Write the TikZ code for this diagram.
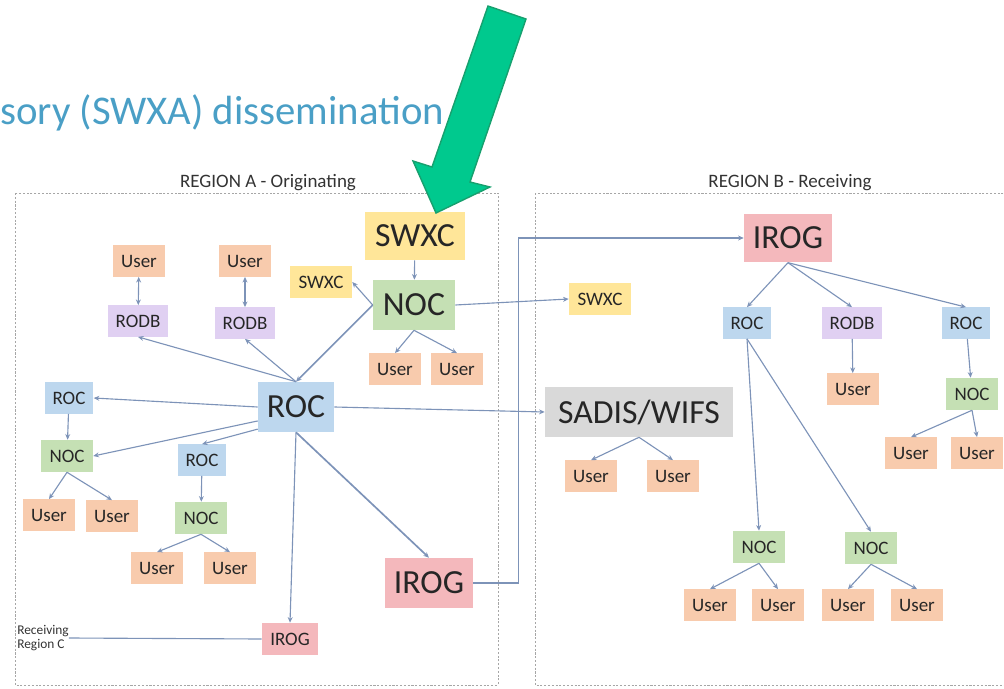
\documentclass[tikz,border=0pt]{standalone}
\usepackage{fontspec}
\setmainfont{Carlito}
\usepackage{xcolor}
\usetikzlibrary{arrows.meta, positioning}
\definecolor{userfill}{HTML}{F8CBAD}
\definecolor{rodbfill}{HTML}{E0D0F2}
\definecolor{rocfill}{HTML}{BDD7EE}
\definecolor{nocfill}{HTML}{C5E0B4}
\definecolor{swxcfill}{HTML}{FFE699}
\definecolor{irogfill}{HTML}{F4B8BC}
\definecolor{sadisfill}{HTML}{D9D9D9}
\definecolor{linkcol}{HTML}{7D93B8}
\definecolor{titleblue}{HTML}{4A9FC6}
\definecolor{arrowgreen}{HTML}{00C98E}
\definecolor{arrowedge}{HTML}{17A06E}

\begin{document}
\begin{tikzpicture}[
    x=0.025cm, y=-0.025cm,
    >={Stealth[length=4pt,width=3.5pt]},
    box/.style={rectangle, inner sep=1pt, align=center, text=black!85},
    small/.style={box, minimum width=1.3cm, minimum height=0.78cm, font=\fontsize{13.5}{15}\selectfont},
    big/.style={box, minimum height=1.25cm, font=\fontsize{24}{28}\selectfont},
    user/.style={small, fill=userfill},
    rodb/.style={small, fill=rodbfill, minimum width=1.5cm},
    roc/.style={small, fill=rocfill, minimum width=1.22cm},
    noc/.style={small, fill=nocfill, minimum height=0.8cm},
    swxc/.style={small, fill=swxcfill, minimum width=1.55cm},
    irog/.style={small, fill=irogfill, minimum width=1.4cm, minimum height=0.8cm},
    link/.style={->, draw=linkcol, line width=0.8pt},
    region/.style={draw=gray!70, dash pattern=on 1.5pt off 1.2pt, line width=0.6pt},
    regionlabel/.style={font=\fontsize{13.5}{15}\selectfont, text=black!80}
]
\useasboundingbox (0,0) rectangle (1004,689);

% Title
\node[anchor=west, inner sep=0pt, text=titleblue, font=\fontsize{29}{33}\selectfont] (title) at (0,113) {sory (SWXA) dissemination};

% Regions
\draw[region] (15,193) rectangle (498,685);
\draw[region] (535,193) rectangle (1010,685);
\node[regionlabel] (labelA) at (268,183) {REGION A - Originating};
\node[regionlabel] (labelB) at (790,183) {REGION B - Receiving};

% Region A
\node[big, fill=swxcfill, minimum width=2.5cm, minimum height=1.2cm] (swxcA) at (415,236) {SWXC};
\node[big, fill=nocfill, minimum width=2.05cm] (nocA) at (414,305) {NOC};
\node[swxc] (swxcsA) at (321,282) {SWXC};
\node[user] (userA1) at (139,261) {User};
\node[user] (userA2) at (245,261) {User};
\node[rodb] (rodbA1) at (138,321) {RODB};
\node[rodb] (rodbA2) at (245,323) {RODB};
\node[user] (userA3) at (395,369) {User};
\node[user] (userA4) at (457,369) {User};
\node[big, fill=rocfill, minimum width=1.9cm] (rocA) at (296,407) {ROC};
\node[roc] (rocL) at (69,398) {ROC};
\node[noc] (nocL) at (67,456) {NOC};
\node[user] (userL1) at (49,515) {User};
\node[user] (userL2) at (112,516) {User};
\node[roc] (rocM) at (202,460) {ROC};
\node[noc] (nocM) at (201,518) {NOC};
\node[user] (userM1) at (157,568) {User};
\node[user] (userM2) at (230,568) {User};
\node[big, fill=irogfill, minimum width=2.2cm] (irogA) at (429,583) {IROG};
\node[irog] (irogC) at (290,639) {IROG};
\node[anchor=west, align=left, inner sep=0pt, font=\fontsize{9.5}{10.5}\selectfont, text=black!80] (recvC) at (17,638) {Receiving\\Region C};

% Region B
\node[big, fill=irogfill, minimum width=2.2cm, minimum height=1.22cm] (irogB) at (788,238) {IROG};
\node[swxc] (swxcB) at (600,299) {SWXC};
\node[big, fill=sadisfill, minimum width=4.7cm] (sadis) at (639,412) {SADIS/WIFS};
\node[user] (userS1) at (591,476) {User};
\node[user] (userS2) at (673,476) {User};
\node[roc] (rocB1) at (747,323) {ROC};
\node[rodb] (rodbB) at (852,323) {RODB};
\node[roc] (rocB2) at (966,323) {ROC};
\node[user] (userB) at (853,389) {User};
\node[noc] (nocBR) at (972,394) {NOC};
\node[user] (userR1) at (911,453) {User};
\node[user] (userR2) at (977,453) {User};
\node[noc] (nocB1) at (759,547) {NOC};
\node[noc] (nocB2) at (871,548) {NOC};
\node[user] (userB1) at (710,605) {User};
\node[user] (userB2) at (778,605) {User};
\node[user] (userB3) at (848,605) {User};
\node[user] (userB4) at (917,605) {User};

% Connections in region A
\draw[link] (swxcA) -- (nocA);
\draw[link] (nocA.west) -- (swxcsA.east);
\draw[link, line width=1.2pt] (nocA.west) -- (rocA.north);
\draw[link] (nocA.south) -- (userA3.north);
\draw[link] (nocA.south) -- (userA4.north);
\draw[link, <->] (userA1) -- (rodbA1);
\draw[link, <->] (userA2) -- (rodbA2);
\draw[link] (rocA.north) -- (rodbA1.south);
\draw[link] (rocA.north) -- (rodbA2.south);
\draw[link] (rocA.west) -- (rocL.east);
\draw[link] (rocA.200) -- (nocL.east);
\draw[link] (rocA.210) -- (rocM.north);
\draw[link] (rocL) -- (nocL);
\draw[link] (nocL.south) -- (userL1.north);
\draw[link] (nocL.south) -- (userL2.north);
\draw[link] (rocM) -- (nocM);
\draw[link] (nocM.south) -- (userM1.north);
\draw[link] (nocM.south) -- (userM2.north);
\draw[link, line width=1.2pt] (rocA.south) -- (irogA.north);
\draw[link] (rocA.south) -- (irogC.north);
\draw[draw=linkcol, line width=0.8pt] (irogC.west) -- (recvC.east);

% Connections across regions
\draw[link] (rocA.east) -- (sadis.west);
\draw[link] (nocA.east) -- (swxcB.west);
\draw[link, line width=1pt] (irogA.east) -- ++(45,0) |- (irogB.west);

% Connections in region B
\draw[link] (sadis.south) -- (userS1.north);
\draw[link] (sadis.south) -- (userS2.north);
\draw[link] (irogB.south) -- (rocB1.north);
\draw[link] (irogB.south) -- (rodbB.north);
\draw[link] (irogB.south) -- (rocB2.north);
\draw[link] (rodbB) -- (userB);
\draw[link] (rocB2) -- (nocBR);
\draw[link] (nocBR.south) -- (userR1.north);
\draw[link] (nocBR.south) -- (userR2.north);
\draw[link] (rocB1.south) -- (nocB1.north);
\draw[link] (rocB1.south) -- (nocB2.north);
\draw[link] (nocB1.south) -- (userB1.north);
\draw[link] (nocB1.south) -- (userB2.north);
\draw[link] (nocB2.south) -- (userB3.north);
\draw[link] (nocB2.south) -- (userB4.north);

% Pointer arrow
\draw[fill=arrowgreen, draw=arrowedge, line width=1pt] (488,6) -- (526,19) -- (470,182) -- (490,187) -- (436,213) -- (413,161) -- (432,167) -- cycle;

\end{tikzpicture}
\end{document}
